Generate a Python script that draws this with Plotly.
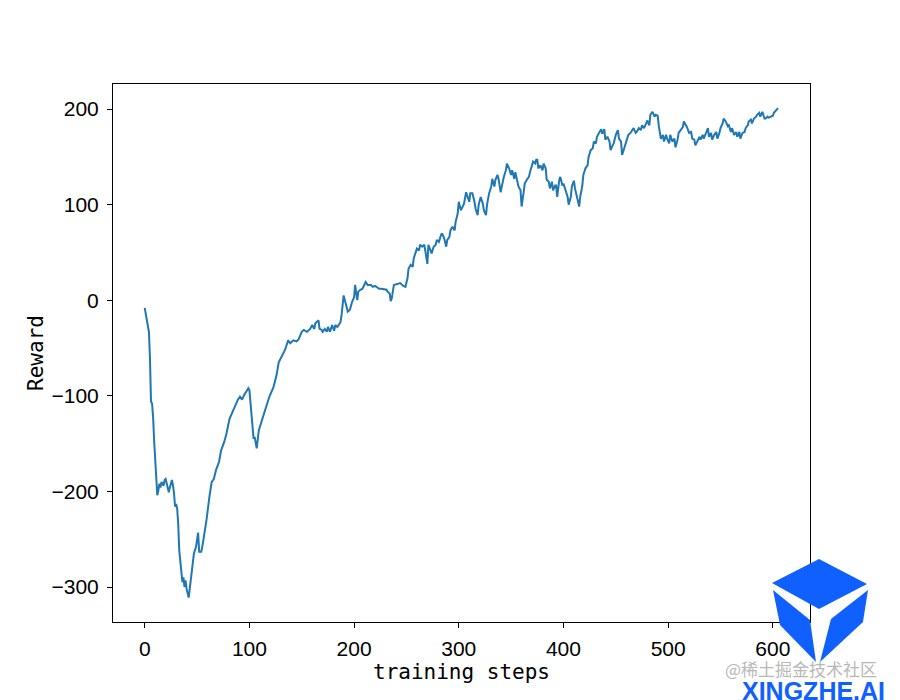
import plotly.graph_objects as go

# ---------------- data ----------------
steps = [
    0, 2, 4, 5, 6, 7, 8, 9, 11, 12, 13, 14, 15, 16, 18, 19, 20, 21, 23, 24,
    26, 27, 28, 29, 30, 31, 32, 33, 35, 36, 37, 38, 39, 40, 42, 43, 44, 45, 47, 49,
    50, 51, 52, 54, 55, 57, 59, 62, 64, 66, 68, 71, 73, 76, 78, 81, 84, 86, 89, 91,
    93, 95, 97, 99, 100, 102, 104, 105, 107, 109, 111, 113,
    116, 119, 123, 126, 128, 131, 134, 137, 139, 142, 145, 147, 150, 152, 155, 158,
    160, 162, 163, 166, 167, 169, 170, 172, 174, 175, 177, 179, 181, 182, 184, 187,
    188, 190, 192, 194, 196, 198, 200, 201, 203, 204, 206, 208, 211, 213, 216, 218,
    220, 224, 226, 229, 231, 232, 234, 235, 236, 238, 241, 244,
    247, 249, 251, 252, 254, 256, 257, 259, 260, 262, 263, 265, 267, 268, 270, 271,
    273, 274, 276, 278, 279, 281, 283, 284, 286, 288, 289, 291, 292, 294, 296, 297,
    299, 300, 302, 303, 305, 307, 308, 310, 311, 313, 315, 316, 318, 319, 321, 323,
    324, 326, 327, 329, 331, 332, 334, 335, 337, 338, 340, 342, 343, 345, 346, 348,
    350, 351, 353, 354, 356, 357, 359, 360, 362, 363, 365, 367, 368, 370, 371, 373,
    374, 375, 376,
    378, 380, 381, 383, 384, 386, 387, 389, 390, 392, 393, 394, 396, 397, 399, 400,
    402, 404, 405, 407, 408, 410, 411, 413, 415, 416, 418, 419, 421, 423, 424, 426,
    428, 429, 431, 432, 434, 436, 437, 439, 440, 442, 444, 445, 447, 448, 450, 452,
    453, 455, 456, 458, 459, 461, 462, 464, 466, 467, 469, 470, 472,
    474, 475, 477, 479, 480, 482, 483, 485, 487, 488, 490, 491, 493, 495, 496, 498,
    499, 501, 502, 504, 506, 507, 509, 510, 512, 514, 515, 517, 518, 520, 522, 523,
    525, 526, 528, 530, 531, 533, 534, 536, 538, 539, 541, 542, 544, 546, 547, 549,
    550, 552, 553, 555, 557, 558, 560, 561, 563, 565, 566, 568, 569, 571, 573, 574,
    576, 577, 579, 580, 582, 584, 585, 587, 588, 590, 592, 593, 595, 596, 598, 600,
    601, 603, 605,
]

reward = [
    -8, -20, -33, -60, -106, -108, -122, -147, -178, -204, -199, -192, -196, -190, -194, -188, -187, -192, -201, -196,
    -188, -194, -202, -216, -213, -218, -234, -262, -290, -295, -290, -300, -293, -302, -311, -302, -293, -279, -265, -258,
    -251, -243, -263, -263, -258, -245, -230, -204, -190, -187, -178, -169, -157, -148, -140, -124, -116, -110, -104, -101,
    -104, -99, -95, -92, -94, -119, -145, -143, -155, -136, -129, -120,
    -111, -101, -91, -78, -65, -58, -52, -42, -45, -42, -43, -41, -33, -31, -33, -30,
    -26, -30, -24, -21, -30, -31, -33, -30, -33, -28, -33, -26, -32, -26, -28, -23,
    -16, 5, -5, -12, -10, -2, 3, 16, 0, 9, 11, 12, 19, 16, 16, 14,
    15, 12, 12, 11, 11, 9, 7, -1, 2, 16, 17, 18,
    15, 14, 23, 33, 37, 35, 44, 52, 54, 52, 58, 56, 58, 52, 38, 58,
    52, 49, 56, 58, 63, 61, 68, 70, 65, 56, 63, 66, 73, 77, 73, 82,
    91, 103, 94, 96, 101, 113, 110, 103, 112, 112, 103, 96, 89, 100, 108, 101,
    94, 89, 100, 112, 119, 127, 119, 126, 131, 127, 113, 124, 129, 136, 143, 138,
    131, 136, 127, 134, 122, 119, 115, 98, 113, 122, 126, 129, 134, 140, 145, 143,
    147, 147, 138,
    141, 136, 143, 138, 126, 124, 117, 124, 115, 120, 120, 108, 126, 129, 120, 122,
    115, 108, 100, 108, 119, 125, 117, 106, 98, 108, 120, 131, 138, 141, 150, 157,
    159, 166, 164, 171, 175, 179, 174, 179, 168, 171, 166, 157, 162, 164, 173, 178,
    169, 166, 152, 159, 164, 169, 173, 175, 178, 180, 175, 176, 180,
    178, 183, 180, 185, 188, 183, 194, 197, 192, 194, 193, 183, 169, 173, 166, 173,
    169, 164, 173, 166, 169, 160, 168, 175, 178, 181, 187, 183, 181, 175, 176, 169,
    168, 162, 166, 171, 168, 173, 169, 175, 180, 171, 175, 168, 173, 176, 169, 175,
    180, 185, 190, 187, 182, 183, 176, 180, 173, 176, 171, 176, 169, 175, 176, 180,
    183, 187, 189, 185, 190, 192, 194, 196, 192, 197, 190, 190, 192, 191, 192, 193,
    196, 198, 201,
]

x_ticks = [0, 100, 200, 300, 400, 500, 600]
y_ticks = [-300, -200, -100, 0, 100, 200]
x_label = "training steps"
y_label = "Reward"
watermark_text = "@稀土掘金技术社区"
brand_text = "XINGZHE.AI"

# ---------------- layout geometry ----------------
# the page body has an 8px margin, so the figure is drawn at (8, 8)
O = 8
W, H = 892, 692
L, R, T, B = 105, 90, 76, 78
PW, PH = W - L - R, H - T - B


def px(x):
    return (x - O - L) / PW


def py(y):
    return (O + H - B - y) / PH


def path(points):
    return "M " + " L ".join(f"{px(a):.4f},{py(b):.4f}" for a, b in points) + " Z"


fig = go.Figure()
fig.add_trace(go.Scatter(
    x=steps, y=reward, mode="lines",
    line=dict(color="#1f77b4", width=2),
    hoverinfo="skip", showlegend=False,
))

tick_font = dict(family="Liberation Sans, Arial, sans-serif", size=21, color="black")
title_font = dict(family="DejaVu Sans Mono, monospace", size=21, color="black")

fig.update_xaxes(
    range=[-30.3, 635.5], tickvals=x_ticks, ticktext=[str(v) for v in x_ticks],
    showgrid=False, zeroline=False, showline=True, mirror=True,
    linecolor="black", linewidth=1, ticks="outside", ticklen=5, tickwidth=1,
    tickcolor="black", tickfont=tick_font, ticklabelstandoff=3,
    title=dict(text=x_label, font=title_font, standoff=1),
)
fig.update_yaxes(
    range=[-336.6, 226.2], tickvals=y_ticks,
    ticktext=[("\u2212" + str(-v)) if v < 0 else str(v) for v in y_ticks],
    showgrid=False, zeroline=False, showline=True, mirror=True,
    linecolor="black", linewidth=1, ticks="outside", ticklen=5, tickwidth=1,
    tickcolor="black", tickfont=tick_font, ticklabelstandoff=4,
    title=dict(text=y_label, font=title_font, standoff=2),
)

# decorative watermark (cube logo + texts)
blue = "#1060ff"
shapes = [
    dict(type="path", xref="paper", yref="paper", layer="above",
         path=path([(772, 583), (819, 559), (867, 584), (819, 609)]),
         fillcolor=blue, line=dict(width=0)),
    dict(type="path", xref="paper", yref="paper", layer="above",
         path=path([(773, 590), (810, 620), (816, 662), (780, 625)]),
         fillcolor=blue, line=dict(width=0)),
    dict(type="path", xref="paper", yref="paper", layer="above",
         path=path([(868, 590), (863, 622), (820, 662), (831, 619)]),
         fillcolor=blue, line=dict(width=0)),
]

annotations = [
    dict(text=watermark_text, xref="paper", yref="paper", x=px(801), y=py(668),
         xanchor="center", yanchor="middle", showarrow=False,
         font=dict(family="Noto Sans CJK SC", size=17, color="#b8b8b8")),
    dict(text=f"<b>{brand_text}</b>", xref="paper", yref="paper", x=px(813), y=py(691),
         xanchor="center", yanchor="middle", showarrow=False,
         font=dict(family="Liberation Sans, Arial", size=25, color=blue)),
]

fig.update_layout(
    width=W, height=H,
    margin=dict(l=L, r=R, t=T, b=B, autoexpand=False),
    paper_bgcolor="white", plot_bgcolor="white",
    shapes=shapes, annotations=annotations,
    showlegend=False,
)

fig.write_html("out.html")
